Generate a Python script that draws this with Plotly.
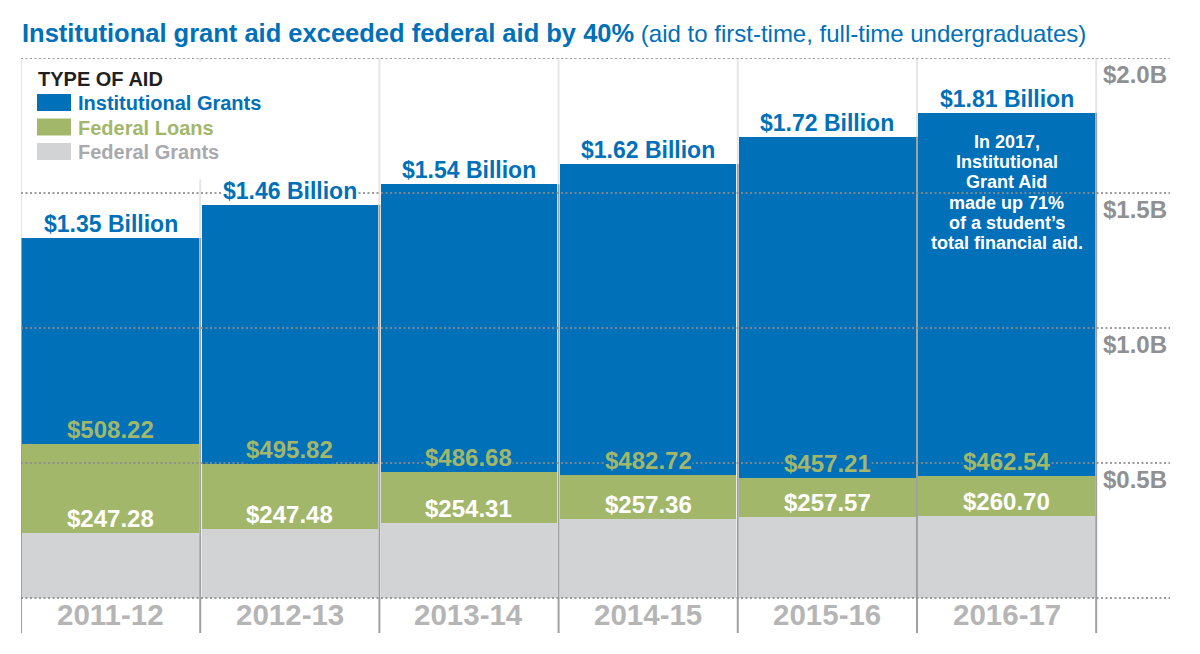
import plotly.graph_objects as go

# data
years = ["2011-12", "2012-13", "2013-14", "2014-15", "2015-16", "2016-17"]
total_billion = [1.35, 1.46, 1.54, 1.62, 1.72, 1.81]
loan_labels = [508.22, 495.82, 486.68, 482.72, 457.21, 462.54]
grant_labels = [247.28, 247.48, 254.31, 257.36, 257.57, 260.70]

# segment heights as drawn in the graphic (billions)
federal_grants = [0.242, 0.254, 0.279, 0.293, 0.301, 0.304]
federal_loans = [0.328, 0.241, 0.189, 0.163, 0.142, 0.148]
institutional_grants = [0.763, 0.961, 1.064, 1.151, 1.265, 1.345]

ytick_vals = [0.5, 1.0, 1.5, 2.0]
ytick_text = ["$0.5B", "$1.0B", "$1.5B", "$2.0B"]

note_lines = ["In 2017,", "Institutional", "Grant Aid", "made up 71%",
              "of a student\u2019s", "total financial aid."]

BLUE = "#0070b8"
GREEN = "#a3b76b"
GRAY = "#d1d3d4"
FONT = "Liberation Sans"

OFF = 8  # page body margin of the html
W, H = 1200 - OFF, 654 - OFF
L, R, T, B = 21 - OFF, 30, 58 - OFF, 21
YMIN, YMAX = -0.13, 2.0


def px(x):
    # page pixel -> paper x
    return (x - OFF - L) / (W - L - R)


def py(y):
    # page pixel -> paper y
    return (OFF + H - B - y) / (H - T - B)


def dy(y):
    # page pixel -> data y
    return YMIN + py(y) * (YMAX - YMIN)


xs = list(range(len(years)))
tops = [a + b + c for a, b, c in zip(federal_grants, federal_loans, institutional_grants)]
loan_tops = [a + b for a, b in zip(federal_grants, federal_loans)]

fig = go.Figure()
for vals, col, name in [(federal_grants, GRAY, "Federal Grants"),
                        (federal_loans, GREEN, "Federal Loans"),
                        (institutional_grants, BLUE, "Institutional Grants")]:
    fig.add_trace(go.Bar(x=xs, y=vals, name=name, marker_color=col,
                         marker_line_width=0, width=0.985))

shapes = []
# column separators
for i in range(len(years) + 1):
    adj = [tops[j] for j in (i - 1, i) if 0 <= j < len(years)]
    low = min(adj)
    shapes.append(dict(type="line", xref="x", yref="y", x0=i - 0.5, x1=i - 0.5,
                       y0=low, y1=YMAX, line=dict(color="#e6e6e6", width=2), layer="above"))
    shapes.append(dict(type="line", xref="x", yref="y", x0=i - 0.5, x1=i - 0.5,
                       y0=YMIN, y1=low, line=dict(color="#a0a0a0", width=2), layer="above"))
# white box behind legend
shapes.append(dict(type="rect", xref="x", yref="y", x0=-0.49, x1=1.2, y0=1.55, y1=1.985,
                   fillcolor="white", line_width=0, layer="above"))
# dotted gridlines on top of the bars
for v in [0] + ytick_vals:
    shapes.append(dict(type="line", xref="paper", yref="y", x0=0, x1=1, y0=v, y1=v,
                       line=dict(color="rgba(140,140,140,0.85)", width=2, dash="2px,2.5px"),
                       layer="above"))

# legend swatches
legend_items = [("Institutional Grants", BLUE), ("Federal Loans", GREEN), ("Federal Grants", "#a8a9ad")]
swatch_cols = [BLUE, GREEN, GRAY]
for k, scol in enumerate(swatch_cols):
    y0 = 94 + k * 24.5
    shapes.append(dict(type="rect", xref="paper", yref="paper", x0=px(37), x1=px(71),
                       y0=py(y0 + 17), y1=py(y0), fillcolor=scol, line_width=0, layer="above"))

ann = []
ann.append(dict(xref="paper", yref="paper", x=px(20), y=py(33), xanchor="left", yanchor="middle",
                text="<b>Institutional grant aid exceeded federal aid by 40%</b>"
                     "<span style='font-size:24px'> (aid to first-time, full-time undergraduates)</span>",
                showarrow=False, font=dict(family=FONT, size=25.5, color=BLUE)))
ann.append(dict(xref="paper", yref="paper", x=px(36), y=py(79), xanchor="left", yanchor="middle",
                text="TYPE OF AID", showarrow=False,
                font=dict(family=FONT, size=20, color="#231f20", weight="bold")))
for k, (lab, tcol) in enumerate(legend_items):
    ann.append(dict(xref="paper", yref="paper", x=px(76), y=py(103 + k * 24.5),
                    xanchor="left", yanchor="middle", text=lab, showarrow=False,
                    font=dict(family=FONT, size=20, color=tcol, weight="bold")))

for i in xs:
    ann.append(dict(x=i, y=tops[i], yanchor="bottom", text=f"${total_billion[i]:.2f} Billion",
                    showarrow=False, bgcolor="white", borderpad=0,
                    font=dict(family=FONT, size=23, color=BLUE, weight="bold")))
    ann.append(dict(x=i, y=loan_tops[i], yanchor="bottom", text=f"${loan_labels[i]:.2f}",
                    showarrow=False, bgcolor=BLUE, borderpad=0,
                    font=dict(family=FONT, size=24, color=GREEN, weight="bold")))
    ann.append(dict(x=i, y=federal_grants[i], yanchor="bottom", text=f"${grant_labels[i]:.2f}",
                    showarrow=False, bgcolor=GREEN, borderpad=0,
                    font=dict(family=FONT, size=24, color="white", weight="bold")))
    ann.append(dict(x=i, y=0, yanchor="top", yshift=2, text=years[i], showarrow=False,
                    font=dict(family=FONT, size=29.5, color="#b5b5b5", weight="bold")))

for k, line in enumerate(note_lines):
    ann.append(dict(x=5, y=dy(141.7 + k * 20.3), yanchor="middle", text=line,
                    showarrow=False, font=dict(family=FONT, size=18, color="white", weight="bold")))

fig.update_layout(
    barmode="stack",
    showlegend=False,
    width=W, height=H,
    margin=dict(l=L, r=R, t=T, b=B),
    plot_bgcolor="white",
    paper_bgcolor="white",
    shapes=shapes,
    annotations=ann,
)
fig.update_xaxes(range=[-0.5, 5.912], visible=False)
fig.update_yaxes(range=[YMIN, YMAX], side="right", showgrid=False, zeroline=False,
                 tickvals=ytick_vals, ticktext=ytick_text, ticks="",
                 ticklabelposition="inside bottom",
                 tickfont=dict(family=FONT, size=24, color="#8e9092", weight="bold"))

fig.write_html("out.html")
